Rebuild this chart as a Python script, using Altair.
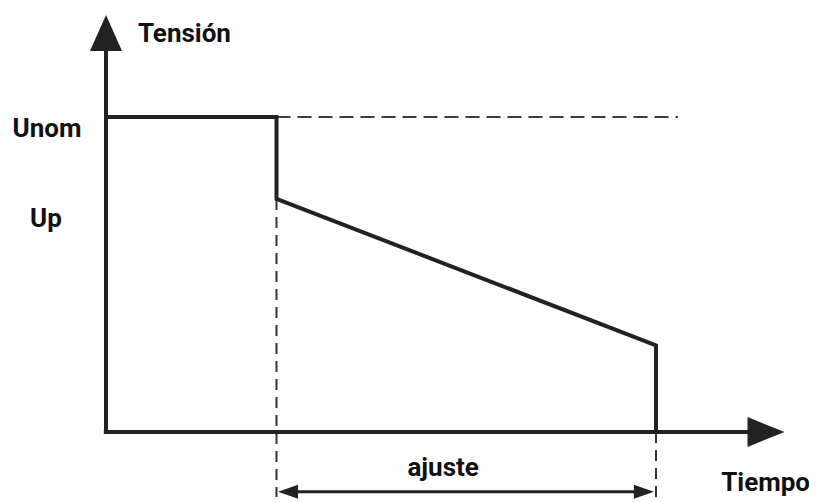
import altair as alt
import pandas as pd

# ---- data (time in arbitrary units, voltage in % of Unom) ----
T_FAULT = 3.1        # start of voltage dip
T_END = 10.0         # end of adjustment time (trip)
U_NOM = 100.0
U_P = 74.0
U_END = 27.5

signal_t = [0.0, T_FAULT, T_FAULT, T_END, T_END]
signal_v = [U_NOM, U_NOM, U_P, U_END, 0.0]

labels_text = ["Tensión", "Unom", "Up", "ajuste", "Tiempo"]
labels_t = [0.58, -1.70, -1.38, 6.13, 12.8]
labels_v = [123.8, 93.7, 65.1, -14.0, -18.7]
labels_align = ["left", "left", "left", "center", "right"]

# ---- scales ----
W, H = 801, 494
xs = alt.Scale(domain=[-98 / 55, 703 / 55], nice=False, zero=False)
ys = alt.Scale(domain=[-70 / 3.15, 424 / 3.15], nice=False, zero=False)

INK = "#222222"
FONT = "Roboto"


def X(f, t="Q"):
    return alt.X(f"{f}:{t}", scale=xs, axis=None)


def Y(f, t="Q"):
    return alt.Y(f"{f}:{t}", scale=ys, axis=None)


# axes (solid)
axes_df = pd.DataFrame({
    "x": [0.0, -0.04], "x2": [0.0, 11.7],
    "y": [-0.2, 0.0], "y2": [121.0, 0.0],
})
axes = alt.Chart(axes_df).mark_rule(color=INK, strokeWidth=4).encode(
    x=X("x"), x2="x2", y=Y("y"), y2="y2")

# signal
sig_df = pd.DataFrame({"t": signal_t, "v": signal_v, "o": range(len(signal_t))})
signal = alt.Chart(sig_df).mark_line(color=INK, strokeWidth=4, strokeJoin="miter").encode(
    x=X("t"), y=Y("v"), order="o:Q")

# dashed reference lines
dash_h = pd.DataFrame({"x": [T_FAULT], "x2": [10.4], "y": [U_NOM], "y2": [U_NOM]})
dashed_h = alt.Chart(dash_h).mark_rule(color="#3a3a4a", strokeWidth=2, strokeDash=[14, 7]).encode(
    x=X("x"), x2="x2", y=Y("y"), y2="y2")

dash_v = pd.DataFrame({"x": [T_FAULT, T_END], "y": [U_P, 0.0], "y2": [-20.6, -20.6]})
dashed_v = alt.Chart(dash_v).mark_rule(color="#333333", strokeWidth=2, strokeDash=[11, 7]).encode(
    x=X("x"), y=Y("y"), y2="y2")

# double arrow for "ajuste"
span_df = pd.DataFrame({"x": [T_FAULT + 0.15], "x2": [T_END - 0.15], "y": [-19.0]})
span = alt.Chart(span_df).mark_rule(color=INK, strokeWidth=3).encode(
    x=X("x"), x2="x2", y=Y("y"))

heads_df = pd.DataFrame({
    "t": [0.0, 12.0, 3.31, 9.78],
    "v": [126.7, 0.0, -19.0, -19.0],
    "shape": [
        "M-0.89,1L0,-1L0.89,1Z",
        "M-1,-0.81L1,0L-1,0.81Z",
        "M1,-0.7L-1,0L1,0.7Z",
        "M-1,-0.7L1,0L-1,0.7Z",
    ],
    "size": [1296, 1369, 400, 400],
})
heads = alt.Chart(heads_df).mark_point(filled=True, color=INK, opacity=1, strokeWidth=0).encode(
    x=X("t"), y=Y("v"),
    shape=alt.Shape("shape:N", scale=None),
    size=alt.Size("size:Q", scale=None),
)

# labels
lab_df = pd.DataFrame({"text": labels_text, "t": labels_t, "v": labels_v, "align": labels_align})
text_layers = []
for al in ["left", "right", "center"]:
    sub = lab_df[lab_df["align"] == al]
    text_layers.append(
        alt.Chart(sub).mark_text(font=FONT, fontSize=26, fontWeight="bold", color="#111111",
                                 align=al, baseline="alphabetic").encode(
            x=X("t"), y=Y("v"), text="text:N")
    )

chart = alt.layer(dashed_h, dashed_v, axes, signal, span, heads, *text_layers).properties(
    width=W, height=H,
    autosize=alt.AutoSizeParams(type="none"),
    padding=0,
    background="white",
).configure_view(stroke=None)

chart.save("out.html", embed_options={"renderer": "svg", "actions": False})
